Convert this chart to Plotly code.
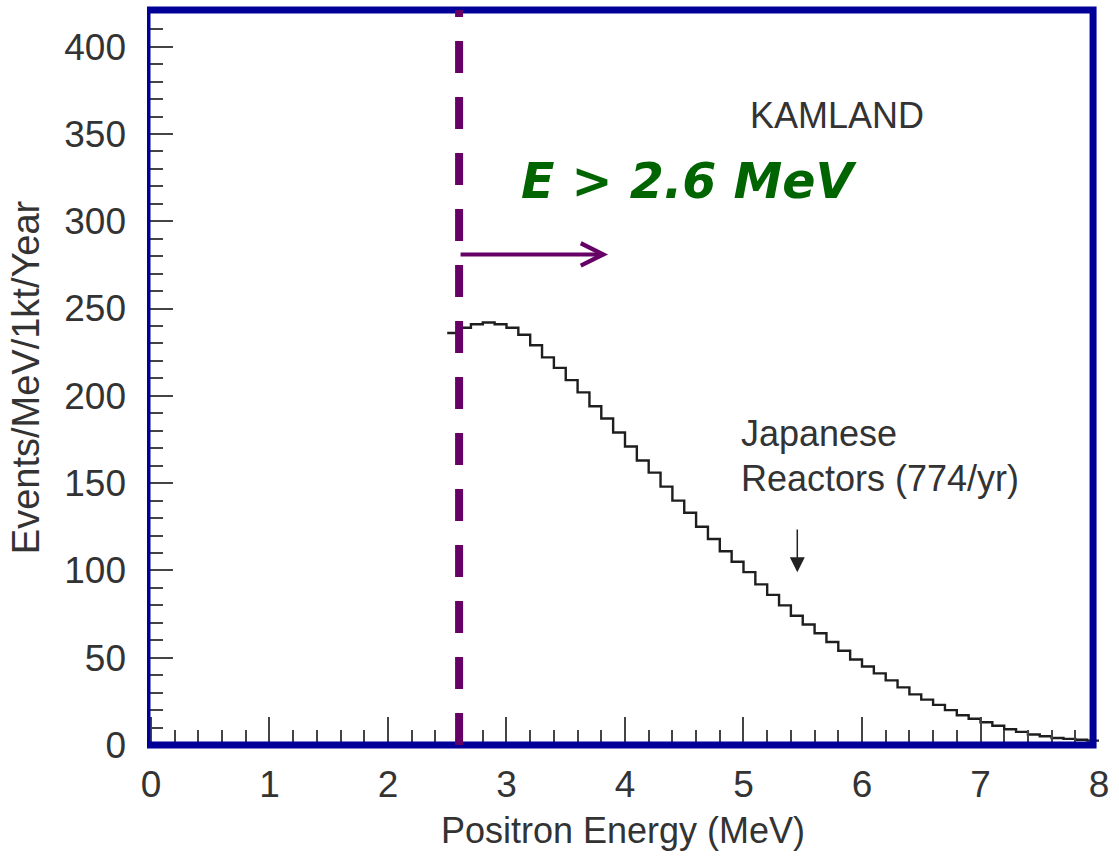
import plotly.graph_objects as go

# ---- data ----
bin_left_mev = [2.5, 2.6, 2.7, 2.8, 2.9, 3.0, 3.1, 3.2, 3.3, 3.4,
                3.5, 3.6, 3.7, 3.8, 3.9, 4.0, 4.1, 4.2, 4.3, 4.4,
                4.5, 4.6, 4.7, 4.8, 4.9, 5.0, 5.1, 5.2, 5.3, 5.4,
                5.5, 5.6, 5.7, 5.8, 5.9, 6.0, 6.1, 6.2, 6.3, 6.4,
                6.5, 6.6, 6.7, 6.8, 6.9, 7.0, 7.1, 7.2, 7.3, 7.4,
                7.5, 7.6, 7.7, 7.8, 7.9]
events_per_mev = [236, 239, 241, 242, 241, 239, 235, 229, 222, 216,
                  209, 202, 194, 187, 179, 171, 163, 156, 148, 140,
                  133, 125, 118, 111, 105, 99, 92, 86, 80, 74,
                  69, 64, 59, 54, 49, 45, 41, 37, 33, 29,
                  26, 23, 20, 17, 15, 13, 11, 9, 7.5, 6,
                  5, 4, 3.5, 3, 2.5]
bin_width = 0.1
cut_energy = 2.6
x_tick_vals = [0, 1, 2, 3, 4, 5, 6, 7, 8]
y_tick_vals = [0, 50, 100, 150, 200, 250, 300, 350, 400]

x_step = bin_left_mev + [bin_left_mev[-1] + bin_width]
y_step = events_per_mev + [events_per_mev[-1]]

X_MIN, X_MAX = -0.0336, 8.0
FRAME_RIGHT = 7.95

TXT = "#333333"
FONT = "Liberation Sans, Arial, Helvetica, sans-serif"

fig = go.Figure()
fig.add_trace(go.Scatter(
    x=x_step, y=y_step, mode="lines",
    line=dict(shape="hv", color="#1e1e1e", width=2.4),
    hoverinfo="skip", showlegend=False,
))

fig.update_layout(
    width=1119, height=858,
    margin=dict(l=147, r=16, t=10, b=113),
    paper_bgcolor="white", plot_bgcolor="white",
    showlegend=False,
    font=dict(family=FONT, color=TXT, size=36),
    xaxis=dict(
        range=[X_MIN, X_MAX], tickmode="array", tickvals=x_tick_vals,
        ticks="inside", ticklen=28, tickwidth=1.6, tickcolor="#444",
        minor=dict(dtick=0.2, ticks="inside", ticklen=15, tickwidth=1.5, tickcolor="#444"),
        showgrid=False, zeroline=False, showline=False,
        tickfont=dict(size=37, color=TXT, family=FONT),
        ticklabelstandoff=14,
        title=dict(text="Positron Energy (MeV)", font=dict(size=36, color=TXT, family=FONT), standoff=13),
    ),
    yaxis=dict(
        range=[0, 421], tickmode="array", tickvals=y_tick_vals,
        ticks="inside", ticklen=26, tickwidth=1.6, tickcolor="#444",
        minor=dict(dtick=10, ticks="inside", ticklen=16, tickwidth=1.5, tickcolor="#444"),
        showgrid=False, zeroline=False, showline=False,
        tickfont=dict(size=37, color=TXT, family=FONT),
        ticklabelstandoff=20,
        title=dict(text="Events/MeV/1kt/Year", font=dict(size=38, color=TXT, family=FONT), standoff=12),
    ),
)

# blue frame around the plotted region
fig.add_shape(type="rect", xref="x", yref="paper", x0=X_MIN, x1=FRAME_RIGHT, y0=0, y1=1,
              line=dict(color="#000099", width=7), layer="above")
# dashed threshold line
fig.add_shape(type="line", xref="x", yref="paper", x0=cut_energy, x1=cut_energy, y0=0, y1=1,
              line=dict(color="#660066", width=8, dash="32px,24px"), layer="above")

# threshold arrow
fig.add_annotation(x=3.857, y=281, ax=cut_energy, ay=281, xref="x", yref="y", axref="x", ayref="y",
                   text="", showarrow=True, arrowhead=5, arrowsize=1.1, arrowwidth=4,
                   arrowcolor="#660066")
fig.add_annotation(x=4.546, y=322.5, xref="x", yref="y", text="E > 2.6 MeV", showarrow=False,
                   font=dict(family="DejaVu Sans", size=49, color="#006400", style="italic", weight="bold"),
                   xanchor="center", yanchor="middle")
fig.add_annotation(x=5.79, y=360.8, xref="x", yref="y", text="KAMLAND", showarrow=False,
                   font=dict(size=36, color=TXT, family=FONT), xanchor="center", yanchor="middle")
fig.add_annotation(x=4.958, y=178.5, xref="x", yref="y", text="Japanese", showarrow=False,
                   font=dict(size=36, color=TXT, family=FONT), xanchor="left", yanchor="middle")
fig.add_annotation(x=4.958, y=152.8, xref="x", yref="y", text="Reactors (774/yr)", showarrow=False,
                   font=dict(size=36, color=TXT, family=FONT), xanchor="left", yanchor="middle")
fig.add_annotation(x=5.454, y=99, ax=5.454, ay=124.3, xref="x", yref="y", axref="x", ayref="y",
                   text="", showarrow=True, arrowhead=2, arrowsize=2, arrowwidth=1.5,
                   arrowcolor="#222")

fig.write_html("out.html")
